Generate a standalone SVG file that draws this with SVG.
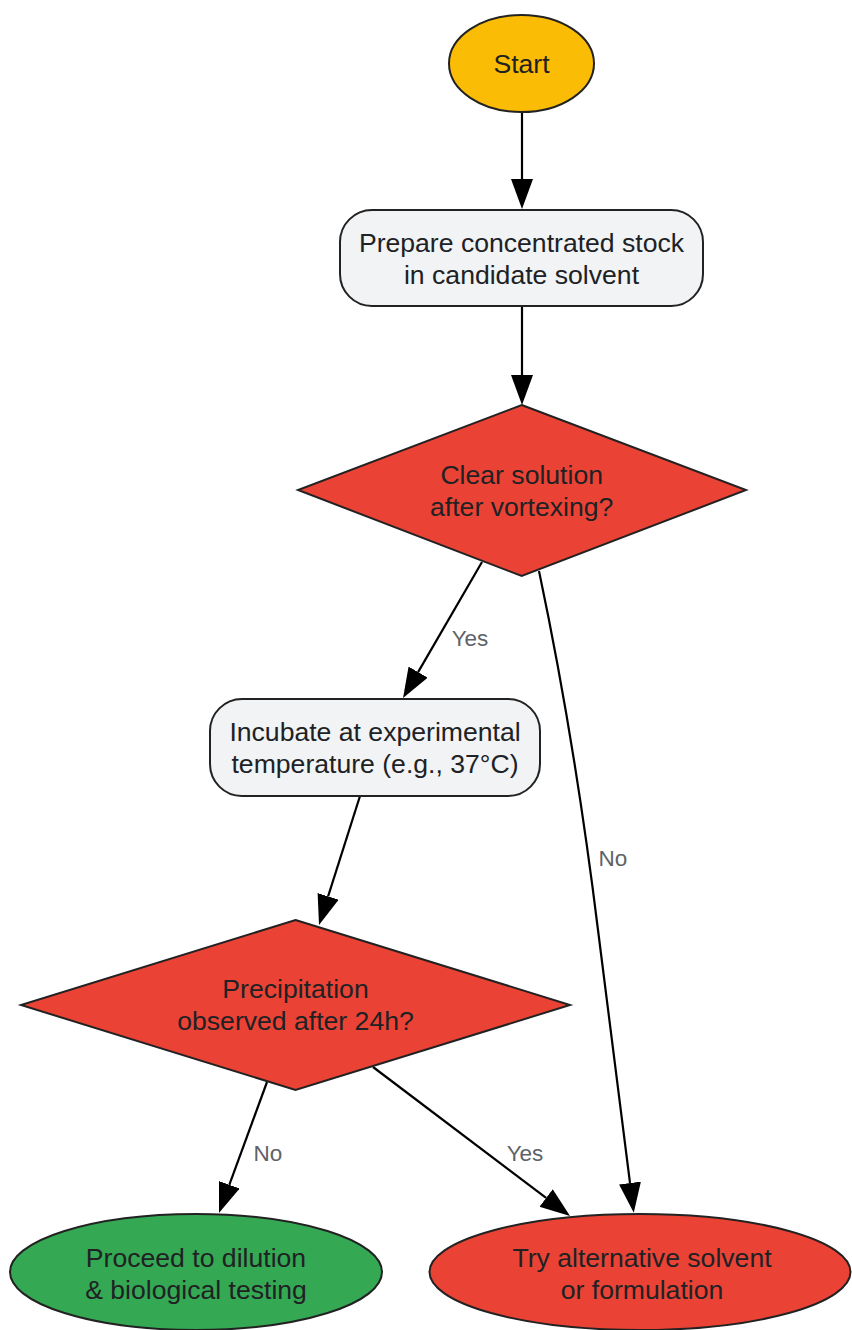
<svg xmlns="http://www.w3.org/2000/svg" width="852" height="1330" viewBox="0 0 852 1330">
<style>
.node{stroke:#222222;stroke-width:2}
.t{font-family:"Liberation Sans",Arial,sans-serif;font-size:26.6px;fill:#202124;text-anchor:middle}
.lbl{font-family:"Liberation Sans",Arial,sans-serif;font-size:22.5px;fill:#5F6368;text-anchor:middle}
.edge{fill:none;stroke:#000000;stroke-width:2.2}
</style>
<defs>
<marker id="arr" markerUnits="userSpaceOnUse" markerWidth="32" markerHeight="24" refX="0" refY="11" orient="auto" viewBox="0 0 32 24">
<path d="M0,0 L30,11 L0,22 Z" fill="#000000"/>
</marker>
</defs>
<rect width="852" height="1330" fill="#ffffff"/>
<g id="connectors">
<path class="edge" d="M522,112 L522,179" marker-end="url(#arr)"/>
<path class="edge" d="M522,306 L522,375" marker-end="url(#arr)"/>
<path class="edge" d="M482,562 L418.1,672.1" marker-end="url(#arr)"/>
<path class="edge" d="M360,796 L328.1,896.4" marker-end="url(#arr)"/>
<path class="edge" d="M267,1082 L229.3,1184.8" marker-end="url(#arr)"/>
<path class="edge" d="M373,1067 L546.1,1197.9" marker-end="url(#arr)"/>
<path class="edge" d="M539,571 C562,680 582,800 598,930 C610,1030 622,1120 630,1183" marker-end="url(#arr)"/>
<text class="lbl" x="470" y="646">Yes</text>
<text class="lbl" x="613" y="866">No</text>
<text class="lbl" x="268" y="1161">No</text>
<text class="lbl" x="525" y="1161">Yes</text>
</g>
<g id="start">
<ellipse class="node" cx="521.5" cy="63.5" rx="72.5" ry="48.5" fill="#FBBC05"/>
<text class="t" x="521.5" y="73">Start</text>
</g>
<g id="prepare">
<rect class="node" x="340" y="210" width="363" height="96" rx="32" fill="#F1F3F4"/>
<text class="t" x="521.5" y="252">Prepare concentrated stock</text>
<text class="t" x="521.5" y="284">in candidate solvent</text>
</g>
<g id="clear">
<polygon class="node" points="521.7,405 746,490 521.7,576 298,490" fill="#EA4335"/>
<text class="t" x="521.7" y="484">Clear solution</text>
<text class="t" x="521.7" y="516">after vortexing?</text>
</g>
<g id="incubate">
<rect class="node" x="210" y="699" width="330" height="97" rx="32" fill="#F1F3F4"/>
<text class="t" x="375" y="741">Incubate at experimental</text>
<text class="t" x="375" y="773">temperature (e.g., 37°C)</text>
</g>
<g id="precip">
<polygon class="node" points="295.5,920 570,1005 295.5,1090 21,1005" fill="#EA4335"/>
<text class="t" x="295.5" y="998">Precipitation</text>
<text class="t" x="295.5" y="1030">observed after 24h?</text>
</g>
<g id="proceed">
<ellipse class="node" cx="196" cy="1272" rx="186" ry="58" fill="#34A853"/>
<text class="t" x="196" y="1267">Proceed to dilution</text>
<text class="t" x="196" y="1299">&amp; biological testing</text>
</g>
<g id="alternative">
<ellipse class="node" cx="640" cy="1272" rx="210.5" ry="58" fill="#EA4335"/>
<text class="t" x="642" y="1267">Try alternative solvent</text>
<text class="t" x="642" y="1299">or formulation</text>
</g>
</svg>
